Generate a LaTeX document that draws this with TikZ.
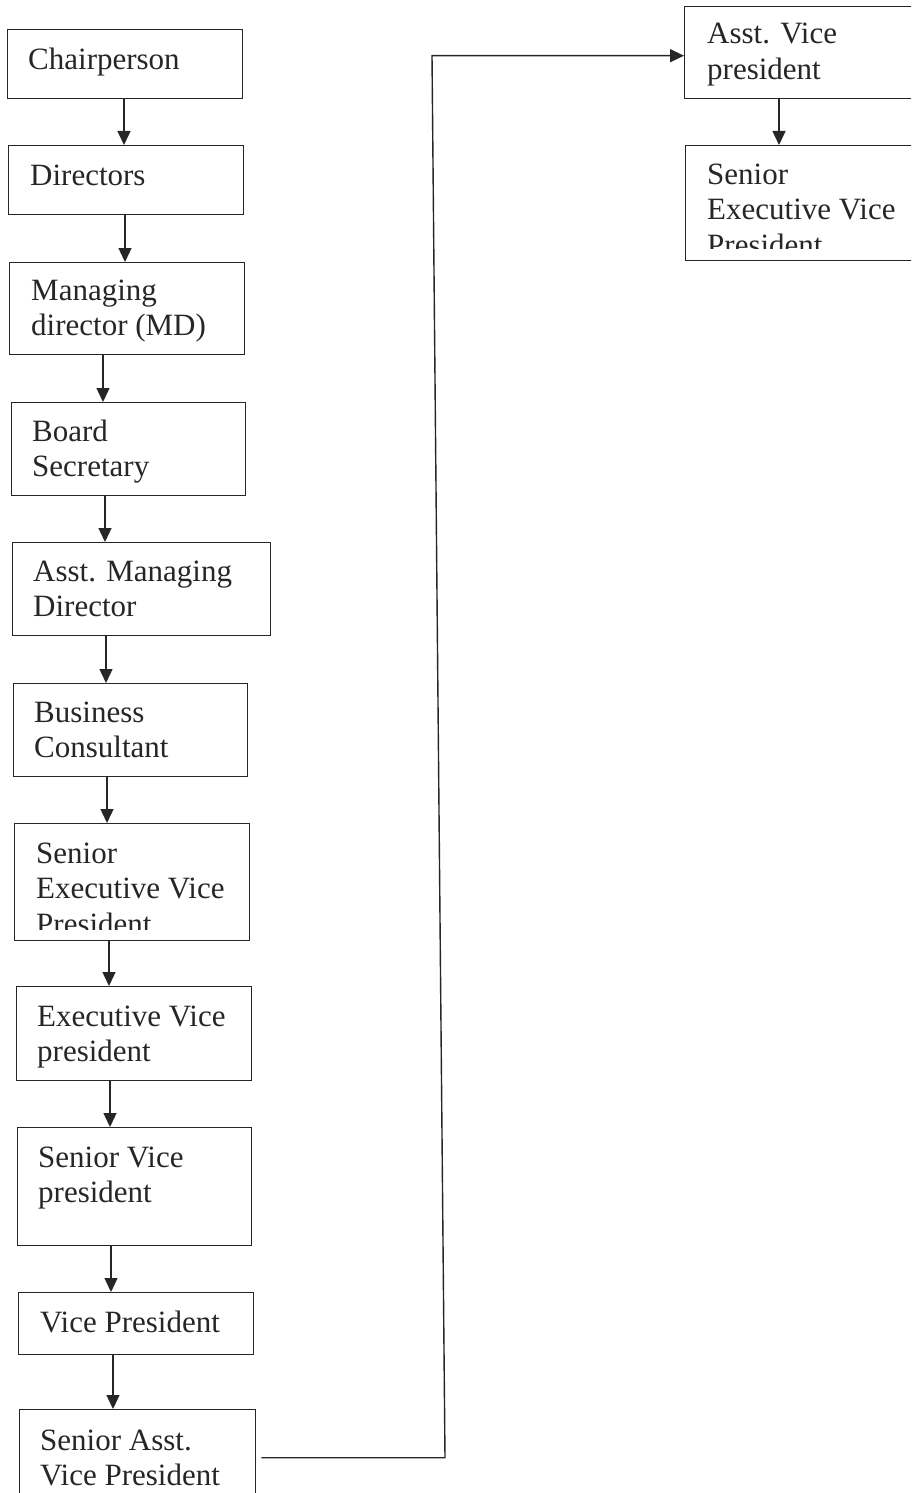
\documentclass[tikz,border=0pt]{standalone}
\usepackage{fontspec}
\setmainfont{Liberation Serif}
\usetikzlibrary{arrows.meta}
\newcommand{\orglines}[1]{\begin{tabular}[t]{@{}l@{}}#1\end{tabular}}
\tikzset{
  orgbox/.style={draw=black!85, line width=1.4pt, inner sep=0pt, anchor=north west},
  lbl/.style={anchor=base west, inner sep=0pt, text=black!85, font=\fontsize{31}{35.5}\selectfont},
  arr/.style={draw=black!85, line width=1.4pt, -{Triangle[length=14pt,width=13pt]}},
}
\begin{document}
\begin{tikzpicture}[x=1pt,y=-1pt]
\useasboundingbox (0,0) rectangle (911,1493);
\clip (0,0) rectangle (911,1493);
% left column boxes
\node[orgbox, minimum width=235pt, minimum height=69pt] (chair) at (7,29) {};
\node[orgbox, minimum width=235pt, minimum height=69pt] (dir) at (8,145) {};
\node[orgbox, minimum width=235pt, minimum height=92pt] (md) at (9,262) {};
\node[orgbox, minimum width=234pt, minimum height=93pt] (board) at (11,402) {};
\node[orgbox, minimum width=258pt, minimum height=93pt] (amd) at (12,542) {};
\node[orgbox, minimum width=234pt, minimum height=93pt] (bc) at (13,683) {};
\node[orgbox, minimum width=235pt, minimum height=117pt] (sevp) at (14,823) {};
\node[orgbox, minimum width=235pt, minimum height=94pt] (evp) at (16,986) {};
\node[orgbox, minimum width=234pt, minimum height=118pt] (svp) at (17,1127) {};
\node[orgbox, minimum width=235pt, minimum height=62pt] (vp) at (18,1292) {};
\node[orgbox, minimum width=236pt, minimum height=96pt] (savp) at (19,1409) {};
% right column boxes
\node[orgbox, minimum width=240pt, minimum height=92pt] (avp) at (684,6) {};
\node[orgbox, minimum width=240pt, minimum height=115pt] (sevpb) at (685,145) {};
% labels
\node[lbl] (chair-t) at ([shift={(21pt,-41pt)}]chair.north west) {Chairperson};
\node[lbl] (dir-t) at ([shift={(22pt,-40pt)}]dir.north west) {Directors};
\node[lbl] (md-t) at ([shift={(22pt,-38pt)}]md.north west) {\orglines{Managing\\director (MD)}};
\node[lbl] (board-t) at ([shift={(21pt,-39pt)}]board.north west) {\orglines{Board\\Secretary}};
\node[lbl] (amd-t) at ([shift={(21pt,-39pt)}]amd.north west) {\orglines{Asst. Managing\\Director}};
\node[lbl] (bc-t) at ([shift={(21pt,-39pt)}]bc.north west) {\orglines{Business\\Consultant}};
\begin{scope}
\clip (sevp.north west) rectangle ([yshift=12pt]sevp.south east);
\node[lbl] (sevp-t) at ([shift={(22pt,-40pt)}]sevp.north west) {\orglines{Senior\\Executive Vice\\President}};
\end{scope}
\node[lbl] (evp-t) at ([shift={(21pt,-40pt)}]evp.north west) {\orglines{Executive Vice\\president}};
\node[lbl] (svp-t) at ([shift={(21pt,-40pt)}]svp.north west) {\orglines{Senior Vice\\president}};
\node[lbl] (vp-t) at ([shift={(22pt,-40pt)}]vp.north west) {Vice President};
\node[lbl] (savp-t) at ([shift={(21pt,-41pt)}]savp.north west) {\orglines{Senior Asst.\\Vice President}};
\node[lbl] (avp-t) at ([shift={(23pt,-38pt)}]avp.north west) {\orglines{Asst. Vice\\president}};
\begin{scope}
\clip (sevpb.north west) rectangle ([yshift=13pt]sevpb.south east);
\node[lbl] (sevpb-t) at ([shift={(22pt,-39pt)}]sevpb.north west) {\orglines{Senior\\Executive Vice\\President}};
\end{scope}
% arrow columns
\coordinate (x1) at (124,0);
\coordinate (x2) at (125,0);
\coordinate (x3) at (103,0);
\coordinate (x4) at (105,0);
\coordinate (x5) at (106,0);
\coordinate (x6) at (107,0);
\coordinate (x7) at (109,0);
\coordinate (x8) at (110,0);
\coordinate (x9) at (111,0);
\coordinate (x10) at (113,0);
\coordinate (x11) at (779,0);
\draw[arr] (x1 |- chair.south) -- (x1 |- dir.north);
\draw[arr] (x2 |- dir.south) -- (x2 |- md.north);
\draw[arr] (x3 |- md.south) -- (x3 |- board.north);
\draw[arr] (x4 |- board.south) -- (x4 |- amd.north);
\draw[arr] (x5 |- amd.south) -- (x5 |- bc.north);
\draw[arr] (x6 |- bc.south) -- (x6 |- sevp.north);
\draw[arr] (x7 |- sevp.south) -- (x7 |- evp.north);
\draw[arr] (x8 |- evp.south) -- (x8 |- svp.north);
\draw[arr] (x9 |- svp.south) -- (x9 |- vp.north);
\draw[arr] (x10 |- vp.south) -- (x10 |- savp.north);
\draw[arr] (x11 |- avp.south) -- (x11 |- sevpb.north);
% long connector
\coordinate (b1) at (445,0);
\coordinate (b2) at (432,0);
\draw[arr] ([xshift=5pt]savp.east) -- (b1 |- savp.east) -- ([yshift=-3pt]b2 |- avp.west) -- ([yshift=-3pt]avp.west);
\end{tikzpicture}
\end{document}
